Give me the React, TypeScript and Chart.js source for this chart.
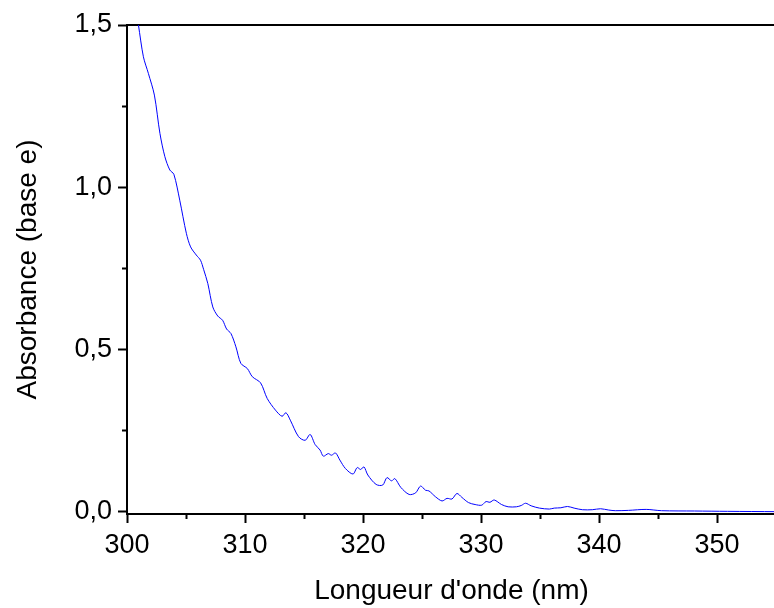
import React, { useEffect, useRef } from 'react';
import { Chart, registerables } from 'chart.js';

Chart.register(...registerables);

const WAVELENGTH_NM = [
  300.0, 300.5, 300.97, 301.39, 301.81, 302.32, 302.79, 303.21, 303.63, 303.97,
  304.47, 305.03, 305.39, 305.87, 306.23, 306.49, 306.85, 307.27, 307.69, 308.1,
  308.44, 308.81, 309.23, 309.65, 310.2, 310.62, 311.32, 311.88, 312.58, 313.14,
  313.47, 313.84, 314.54, 315.1, 315.52, 315.94, 316.36, 316.64, 317.06, 317.33,
  317.67, 318.04, 318.51, 319.15, 319.51, 319.8, 320.08, 320.41, 321.11, 321.67,
  322.03, 322.42, 322.7, 323.2, 323.91, 324.46, 324.88, 325.3, 325.59, 326.14,
  326.7, 327.12, 327.54, 327.96, 328.38, 328.94, 329.5, 330.06, 330.42, 330.76,
  331.12, 331.74, 332.3, 333.0, 333.41, 333.78, 334.25, 334.95, 335.79, 336.21,
  336.77, 337.33, 337.89, 338.59, 339.43, 340.13, 340.82, 341.38, 342.5, 344.0,
  345.3, 348.1, 350.9, 355.0,
];

const ABSORBANCE = [
  1.73, 1.61, 1.5, 1.402, 1.351, 1.284, 1.166, 1.094, 1.053, 1.04,
  0.96, 0.858, 0.816, 0.791, 0.775, 0.747, 0.703, 0.631, 0.603, 0.59,
  0.563, 0.549, 0.508, 0.457, 0.441, 0.416, 0.397, 0.349, 0.313, 0.294,
  0.305, 0.282, 0.231, 0.22, 0.238, 0.207, 0.19, 0.171, 0.179, 0.174,
  0.181, 0.159, 0.133, 0.116, 0.136, 0.13, 0.138, 0.113, 0.084, 0.082,
  0.105, 0.095, 0.102, 0.075, 0.053, 0.058, 0.079, 0.066, 0.064, 0.046,
  0.033, 0.041, 0.039, 0.056, 0.044, 0.028, 0.022, 0.02, 0.031, 0.029,
  0.036, 0.022, 0.015, 0.015, 0.019, 0.026, 0.018, 0.011, 0.008, 0.011,
  0.012, 0.016, 0.011, 0.006, 0.006, 0.009, 0.005, 0.003, 0.004, 0.007,
  0.003, 0.002, 0.001, 0.0,
];

const X_TICKS = [300, 305, 310, 315, 320, 325, 330, 335, 340, 345, 350, 355];
const X_LABELED = [300, 310, 320, 330, 340, 350];
const Y_TICKS = [0, 0.25, 0.5, 0.75, 1.0, 1.25, 1.5];
const Y_LABELED = [0, 0.5, 1.0, 1.5];
const X_TITLE = "Longueur d'onde (nm)";
const Y_TITLE = 'Absorbance (base e)';

const FONT = "'Liberation Sans', Arial, sans-serif";

export default function App() {
  const ref = useRef<HTMLCanvasElement>(null);

  useEffect(() => {
    const canvas = ref.current;
    if (!canvas) return;
    const chart = new Chart(canvas, {
      type: 'line',
      data: {
        datasets: [
          {
            data: WAVELENGTH_NM.map((x, i) => ({ x, y: ABSORBANCE[i] })),
            borderColor: '#0000ff',
            borderWidth: 1,
            pointRadius: 0,
            tension: 0.3,
            fill: false,
          },
        ],
      },
      options: {
        animation: false,
        responsive: false,
        devicePixelRatio: 1,
        layout: { padding: 0 },
        plugins: { legend: { display: false }, tooltip: { enabled: false } },
        scales: {
          x: {
            type: 'linear',
            position: 'bottom',
            min: 300,
            max: 355,
            afterBuildTicks: (s: any) => {
              s.ticks = X_TICKS.map((v) => ({ value: v }));
            },
            afterFit: (s: any) => {
              s.height = 94;
            },
            ticks: {
              autoSkip: false,
              maxRotation: 0,
              padding: 6,
              color: '#000',
              font: { family: FONT, size: 27 },
              callback: (v: any) => (X_LABELED.includes(Number(v)) ? String(v) : ''),
            },
            grid: {
              display: true,
              drawOnChartArea: false,
              drawTicks: true,
              tickLength: 9,
              tickWidth: 2,
              tickColor: '#000',
              tickBorderDash: (ctx: any) =>
                ctx.tick && !X_LABELED.includes(ctx.tick.value) ? [4, 30] : [],
            },
            border: { display: true, color: '#000', width: 2 },
            title: {
              display: true,
              text: X_TITLE,
              color: '#000',
              font: { family: FONT, size: 28 },
              padding: { top: 0, bottom: 0 },
            },
          },
          xTop: {
            type: 'linear',
            axis: 'x',
            position: 'top',
            min: 300,
            max: 355,
            ticks: { display: false },
            grid: { display: false, drawTicks: false },
            border: { display: true, color: '#000', width: 2 },
            afterFit: (s: any) => {
              s.height = 25;
            },
          },
          y: {
            type: 'linear',
            position: 'left',
            min: -0.0072,
            max: 1.5,
            afterBuildTicks: (s: any) => {
              s.ticks = Y_TICKS.map((v) => ({ value: v }));
            },
            afterFit: (s: any) => {
              s.width = 127;
            },
            ticks: {
              autoSkip: false,
              padding: 6,
              color: '#000',
              font: { family: FONT, size: 27 },
              callback: (v: any) =>
                Y_LABELED.includes(Number(v)) ? Number(v).toFixed(1).replace('.', ',') : '',
            },
            grid: {
              display: true,
              drawOnChartArea: false,
              drawTicks: true,
              tickLength: 9,
              tickWidth: 2,
              tickColor: '#000',
              tickBorderDash: (ctx: any) =>
                ctx.tick && !Y_LABELED.includes(ctx.tick.value) ? [0, 4, 4, 30] : [],
            },
            border: { display: true, color: '#000', width: 2 },
            title: {
              display: true,
              text: Y_TITLE,
              color: '#000',
              font: { family: FONT, size: 28 },
              padding: { top: 11, bottom: 0 },
            },
          },
        },
      },
    } as any);
    return () => chart.destroy();
  }, []);

  return (
    <div
      style={{
        position: 'absolute',
        left: 0,
        top: 0,
        width: 774,
        height: 608,
        overflow: 'hidden',
        background: '#fff',
      }}
    >
      <canvas ref={ref} width={782} height={608} style={{ display: 'block' }} />
    </div>
  );
}
